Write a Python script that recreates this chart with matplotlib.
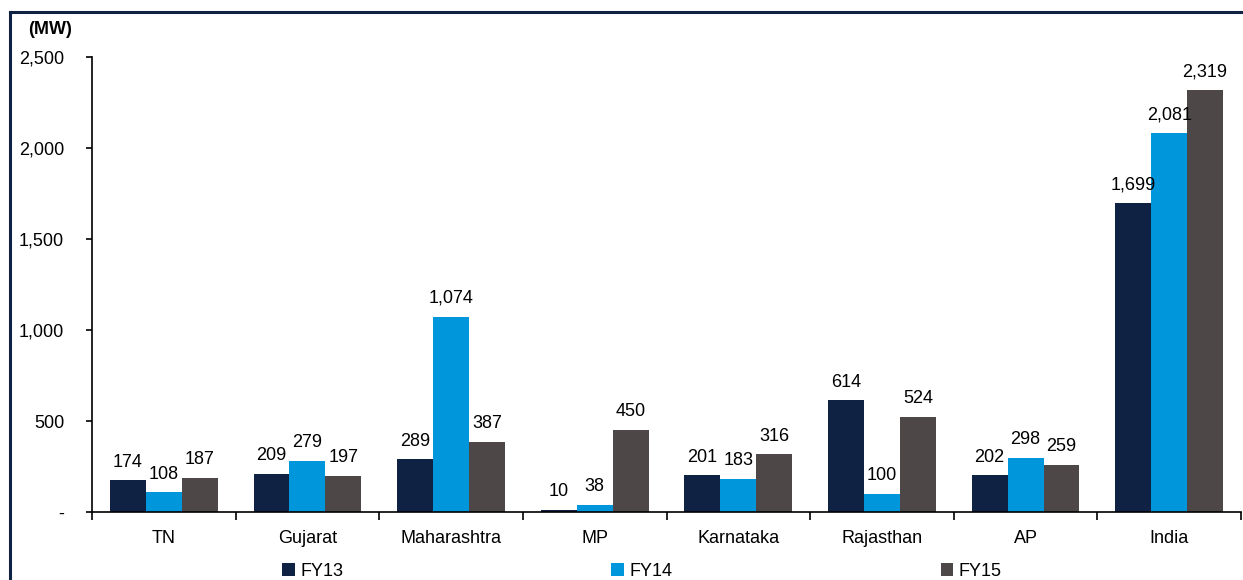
import matplotlib
matplotlib.use("Agg")
import matplotlib.pyplot as plt
import numpy as np
from matplotlib.patches import Patch
from matplotlib.lines import Line2D

plt.rcParams['font.family'] = ['Liberation Sans', 'DejaVu Sans']

categories = ["TN", "Gujarat", "Maharashtra", "MP", "Karnataka", "Rajasthan", "AP", "India"]
series_names = ["FY13", "FY14", "FY15"]
fy13 = [174, 209, 289, 10, 201, 614, 202, 1699]
fy14 = [108, 279, 1074, 38, 183, 100, 298, 2081]
fy15 = [187, 197, 387, 450, 316, 524, 259, 2319]
yticks = [0, 500, 1000, 1500, 2000, 2500]
ytick_labels = ["-", "500", "1,000", "1,500", "2,000", "2,500"]

colors = ["#0F2244", "#0096DB", "#4D4847"]

fig = plt.figure(figsize=(12.43, 5.8), dpi=100)
ax = fig.add_axes([92/1243, 68/580, (1241-92)/1243, (512-57)/580])

x = np.arange(len(categories))
w = 0.25
FS = 13
for i, (vals, c, name) in enumerate(zip([fy13, fy14, fy15], colors, series_names)):
    bars = ax.bar(x + (i - 1) * w, vals, width=w, color=c, label=name, zorder=2)
    ax.bar_label(bars, labels=[f"{v:,}" for v in vals], padding=7, fontsize=FS, color="black")

ax.set_xlim(-0.5, len(categories) - 0.5)
ax.set_ylim(0, 2500)
ax.set_yticks(yticks)
ax.set_yticklabels(ytick_labels, fontsize=FS)
ax.tick_params(axis='y', length=4, width=1.2, pad=16, direction='out')

ax.set_xticks(np.arange(len(categories) + 1) - 0.5)
ax.set_xticklabels([])
ax.tick_params(axis='x', which='major', length=6, width=1.2, direction='out')
ax.set_xticks(x, minor=True)
ax.set_xticklabels(categories, minor=True, fontsize=FS)
ax.tick_params(axis='x', which='minor', length=0, pad=13)

for s in ['top', 'right']:
    ax.spines[s].set_visible(False)
for s in ['left', 'bottom']:
    ax.spines[s].set_linewidth(1.2)
    ax.spines[s].set_color('black')

fig.text(28/1243, 1 - 30/580, "(MW)", fontsize=FS, fontweight='bold', va='center', ha='left')

# outer frame lines
fig.add_artist(Line2D([10/1243, 1.0], [1 - 12/580, 1 - 12/580], color="#0F2244", lw=2.2, transform=fig.transFigure))
fig.add_artist(Line2D([10/1243, 10/1243], [0, 1 - 12/580], color="#0F2244", lw=2.2, transform=fig.transFigure))

handles = [Patch(facecolor=c, label=n) for c, n in zip(colors, series_names)]
fig.legend(handles=handles, loc='center left', bbox_to_anchor=(275/1243, 1 - 571/580), ncol=3,
           frameon=False, fontsize=FS, handlelength=0.7, handleheight=0.7, handletextpad=0.3,
           columnspacing=14.85, borderaxespad=0)

fig.savefig("out.png", dpi=100)
